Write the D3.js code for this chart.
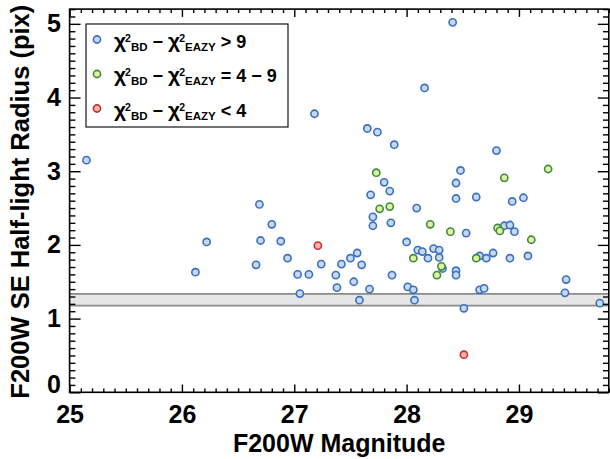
<!DOCTYPE html>
<html>
<head>
<meta charset="utf-8">
<script src="https://cdn.jsdelivr.net/npm/d3@7"></script>
<style>
  html, body { margin: 0; padding: 0; background: #fff; }
  svg { display: block; }
  text { font-family: "Liberation Sans", Arial, Helvetica, sans-serif; font-weight: bold; }
</style>
</head>
<body>
<svg id="chart" width="610" height="459"></svg>
<script>
// ---- Data ----
const blueMag = [25.15, 26.12, 26.22, 26.69, 26.66, 26.70, 26.80, 26.88, 26.94, 27.03,
  27.05, 27.13, 27.18, 27.24, 27.37, 27.38, 27.42, 27.50, 27.56, 27.60,
  27.53, 27.58, 27.67, 27.87, 27.70, 27.70, 27.86, 27.68, 27.85, 27.80,
  27.65, 27.74, 27.89, 28.41, 28.16, 28.80, 28.48, 28.44, 28.44, 28.62,
  29.04, 28.94, 28.09, 28.53, 28.87, 28.92, 28.96, 28.00, 28.10, 28.14,
  28.24, 28.29, 28.19, 28.29, 28.32, 28.44, 28.44, 28.65, 28.71, 28.77,
  28.92, 29.08, 28.01, 28.06, 28.07, 28.65, 28.69, 28.51, 29.42, 29.41, 29.72];
const blueRad = [3.15, 1.63, 2.04, 2.55, 1.73, 2.06, 2.28, 2.05, 1.82, 1.60,
  1.34, 1.60, 3.78, 1.74, 1.59, 1.42, 1.74, 1.82, 1.89, 1.73,
  1.50, 1.25, 1.40, 1.59, 2.38, 2.26, 2.30, 2.68, 2.73, 2.85,
  3.58, 3.53, 3.36, 5.02, 4.13, 3.28, 3.01, 2.84, 2.63, 2.65,
  2.64, 2.59, 2.50, 2.16, 2.26, 2.27, 2.18, 2.04, 1.93, 1.91,
  1.95, 1.93, 1.82, 1.83, 1.68, 1.65, 1.59, 1.85, 1.82, 1.89,
  1.82, 1.85, 1.43, 1.39, 1.25, 1.39, 1.41, 1.14, 1.53, 1.35, 1.21];
const greenMag = [27.73, 27.76, 27.85, 28.87, 29.26, 28.21, 28.39, 28.81, 28.83, 29.11, 28.06, 28.31, 28.27, 28.62];
const greenRad = [2.98, 2.49, 2.52, 2.91, 3.03, 2.28, 2.18, 2.23, 2.19, 2.07, 1.82, 1.71, 1.59, 1.82];
const redMag = [27.21, 28.51];
const redRad = [1.99, 0.51];

const xTicks = [25, 26, 27, 28, 29];
const yTicks = [0, 1, 2, 3, 4, 5];
const bandLow = 1.175, bandHigh = 1.335;

const xTitle = "F200W Magnitude";
const yTitle = "F200W SE Half-light Radius (pix)";
const legendLabels = [">", "=", "<"];
const legendValues = ["9", "4 \u2212 9", "4"];

// ---- Layout ----
const svg = d3.select("#chart");
const L = 69.6, R = 608.8, T = 9.1, B = 392.3;
const x = d3.scaleLinear().domain([25, 29.8]).range([L, R]);
const y = d3.scaleLinear().domain([0, 5.2]).range([B, T]);

const colors = {
  blue:  { stroke: "#3a6fc0", fill: "#c7d9f0" },
  green: { stroke: "#3c8c3c", fill: "#e3f1a2" },
  red:   { stroke: "#c8302c", fill: "#f4b3ad" }
};

// grey band
svg.append("rect")
  .attr("x", L).attr("width", R - L)
  .attr("y", y(bandHigh)).attr("height", y(bandLow) - y(bandHigh))
  .attr("fill", "#e6e6e6");
[bandLow, bandHigh].forEach(v => {
  svg.append("line").attr("x1", L).attr("x2", R)
    .attr("y1", y(v)).attr("y2", y(v))
    .attr("stroke", "#8a8a8a").attr("stroke-width", 1.8);
});

// points
function drawSeries(mag, rad, c) {
  svg.append("g").selectAll("circle")
    .data(d3.zip(mag, rad))
    .join("circle")
    .attr("cx", d => x(d[0])).attr("cy", d => y(d[1]))
    .attr("r", 3.6)
    .attr("fill", c.fill).attr("stroke", c.stroke).attr("stroke-width", 1.6);
}
drawSeries(blueMag, blueRad, colors.blue);
drawSeries(greenMag, greenRad, colors.green);
drawSeries(redMag, redRad, colors.red);

// ---- Axes ----
const xMinor = d3.range(250, 299).map(v => v / 10).filter(v => !xTicks.includes(v));
const yMinor = d3.range(0, 53).map(v => v / 10).filter(v => !yTicks.includes(v));

function styleAxis(g) {
  g.select(".domain").remove();
  g.selectAll(".tick line").attr("stroke", "#000").attr("stroke-width", 1.4);
  g.selectAll("text").attr("fill", "#000").attr("font-size", 25)
    .attr("font-family", "'Liberation Sans', Arial, sans-serif").attr("font-weight", "bold");
}
const xMajLen = 7.8, xMinLen = 3.9, yMajLen = 11, yMinLen = 5.8;

// bottom
svg.append("g").attr("transform", `translate(0,${B})`)
  .call(d3.axisBottom(x).tickValues(xTicks).tickSizeInner(-xMajLen).tickSizeOuter(0).tickPadding(13.4).tickFormat(d3.format("d")))
  .call(styleAxis);
svg.append("g").attr("transform", `translate(0,${B})`)
  .call(d3.axisBottom(x).tickValues(xMinor).tickSizeInner(-xMinLen).tickSizeOuter(0).tickFormat(""))
  .call(styleAxis);
// top
svg.append("g").attr("transform", `translate(0,${T})`)
  .call(d3.axisTop(x).tickValues(xTicks).tickSizeInner(-xMajLen).tickSizeOuter(0).tickFormat(""))
  .call(styleAxis);
svg.append("g").attr("transform", `translate(0,${T})`)
  .call(d3.axisTop(x).tickValues(xMinor).tickSizeInner(-xMinLen).tickSizeOuter(0).tickFormat(""))
  .call(styleAxis);
// left
const leftG = svg.append("g").attr("transform", `translate(${L},0)`)
  .call(d3.axisLeft(y).tickValues(yTicks).tickSizeInner(-yMajLen).tickSizeOuter(0).tickPadding(8.6).tickFormat(d3.format("d")))
  .call(styleAxis);
leftG.selectAll(".tick").filter(d => d === 0).select("text").attr("dy", "0.0em");
svg.append("g").attr("transform", `translate(${L},0)`)
  .call(d3.axisLeft(y).tickValues(yMinor).tickSizeInner(-yMinLen).tickSizeOuter(0).tickFormat(""))
  .call(styleAxis);
// right
svg.append("g").attr("transform", `translate(${R},0)`)
  .call(d3.axisRight(y).tickValues(yTicks).tickSizeInner(-yMajLen).tickSizeOuter(0).tickFormat(""))
  .call(styleAxis);
svg.append("g").attr("transform", `translate(${R},0)`)
  .call(d3.axisRight(y).tickValues(yMinor).tickSizeInner(-yMinLen).tickSizeOuter(0).tickFormat(""))
  .call(styleAxis);

// frame
svg.append("rect").attr("x", L).attr("y", T).attr("width", R - L).attr("height", B - T)
  .attr("fill", "none").attr("stroke", "#000").attr("stroke-width", 1.6);

// titles
svg.append("text").attr("x", (L + R) / 2).attr("y", 451.5)
  .attr("text-anchor", "middle").attr("font-size", 25).text(xTitle);
svg.append("text").attr("transform", `translate(28.5,${(T + B) / 2 + 1}) rotate(-90)`)
  .attr("text-anchor", "middle").attr("font-size", 25.5).text(yTitle);

// ---- Legend ----
const leg = svg.append("g");
leg.append("rect").attr("x", 86).attr("y", 24).attr("width", 202).attr("height", 103)
  .attr("fill", "#fff").attr("stroke", "#000").attr("stroke-width", 1.1);
const legColors = [colors.blue, colors.green, colors.red];
const legBase = [47.5, 82, 116.5];
legendLabels.forEach((op, i) => {
  const c = legColors[i];
  leg.append("circle").attr("cx", 97).attr("cy", legBase[i] - 8)
    .attr("r", 3.6).attr("fill", c.fill).attr("stroke", c.stroke).attr("stroke-width", 1.6);
  const t = leg.append("text").attr("x", 114).attr("y", legBase[i]).attr("font-size", 18);
  t.append("tspan").attr("font-size", 21).text("\u03C7");
  t.append("tspan").attr("font-size", 10.5).attr("dy", -6).attr("dx", -1).text("2");
  t.append("tspan").attr("font-size", 11.5).attr("dy", 9).text("BD");
  t.append("tspan").attr("dy", -3).text(" \u2212 ");
  t.append("tspan").attr("font-size", 21).text("\u03C7");
  t.append("tspan").attr("font-size", 10.5).attr("dy", -6).attr("dx", -1).text("2");
  t.append("tspan").attr("font-size", 11.5).attr("dy", 9).text("EAZY");
  t.append("tspan").attr("dy", -3).text(" " + op + " " + legendValues[i]);
});
</script>
</body>
</html>
